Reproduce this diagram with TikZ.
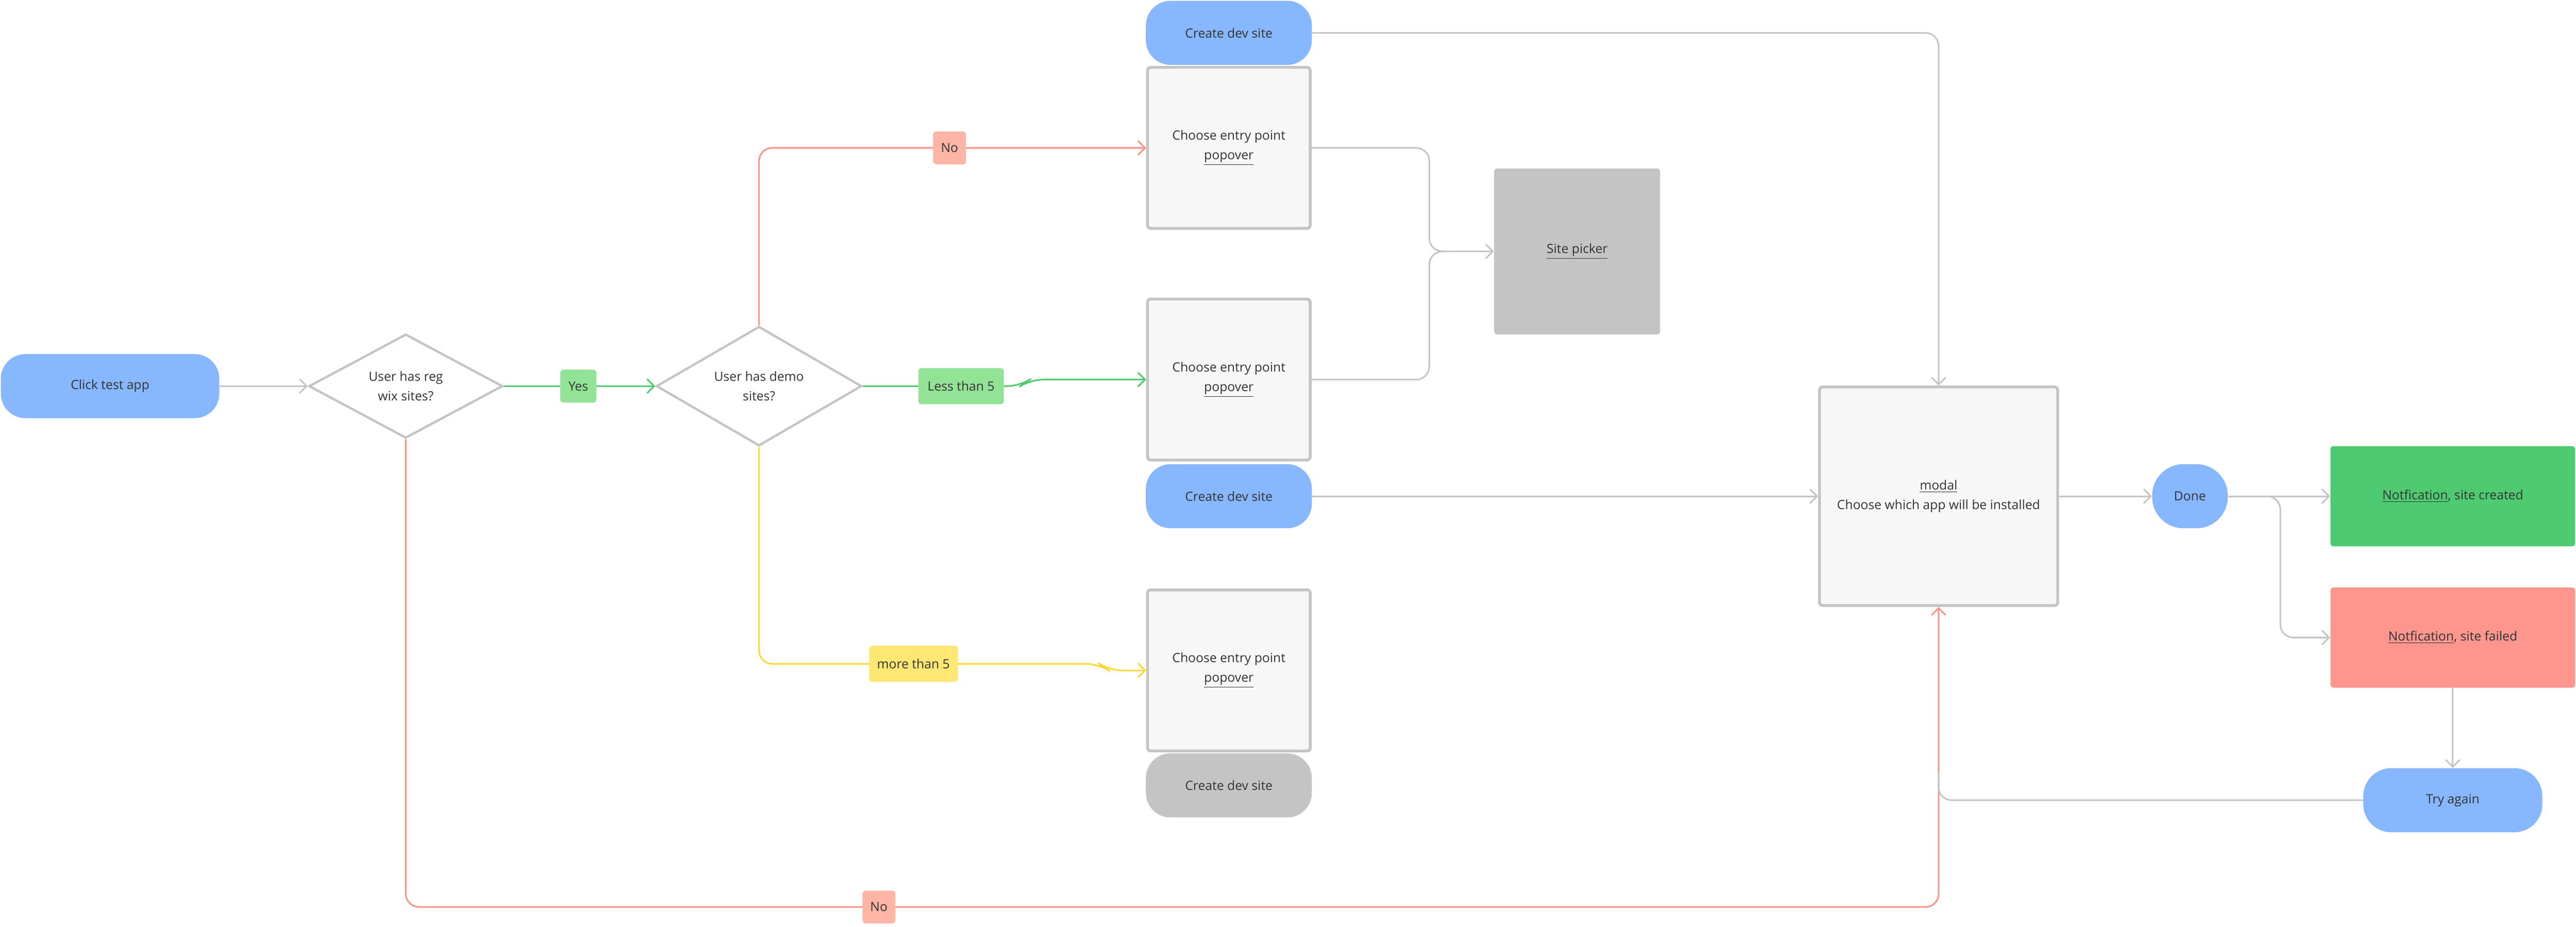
\documentclass[tikz,border=0pt]{standalone}
\usepackage{fontspec}
\setmainfont{Open Sans}
\usetikzlibrary{shapes.geometric,arrows.meta}
\definecolor{tblue}{HTML}{87B7FF}
\definecolor{tgrey}{HTML}{C4C4C4}
\definecolor{tbox}{HTML}{F7F7F7}
\definecolor{tgreen}{HTML}{4ECB71}
\definecolor{tlgreen}{HTML}{92E396}
\definecolor{tred}{HTML}{FF968E}
\definecolor{tsalmon}{HTML}{FFB5A6}
\definecolor{tyellow}{HTML}{FFE773}
\definecolor{tylw}{HTML}{FFD633}
\definecolor{ttext}{HTML}{333333}
\begin{document}
\begin{tikzpicture}[x=0.04082cm,y=-0.04082cm,
  every node/.style={font=\fontsize{9}{14}\selectfont,text=ttext,align=center,inner sep=0pt},
  term/.style={fill=tblue,rounded corners=15*0.04082cm,minimum width=#1*0.04082cm,minimum height=39*0.04082cm},
  term/.default=101,
  box/.style={fill=tbox,draw=tgrey,line width=2pt,rounded corners=2pt,minimum width=99*0.04082cm,minimum height=98*0.04082cm},
  dia/.style={diamond,draw=tgrey,fill=white,line width=1.6pt,minimum width=#1*0.04082cm,minimum height=61*0.04082cm},
  tag/.style={fill=#1,rounded corners=2pt,minimum height=20*0.04082cm,inner xsep=4pt},
  conn/.style={draw=#1,line width=1.1pt,rounded corners=8*0.04082cm,-{Straight Barb[length=5pt,width=10pt]}},
  conn/.default=tgrey,
  plain/.style={draw=#1,line width=1.1pt,rounded corners=8*0.04082cm},
  plain/.default=tgrey]
\useasboundingbox (0,0) rectangle (1568,564);
% nodes
\node[term=133] (click) at (67,235) {Click test app};
\node[dia=118] (d1) at (247,235) {User has reg\\wix sites?};
\node[dia=125] (d2) at (462,235) {User has demo\\sites?};
\node[term] (cd1) at (748,20) {Create dev site};
\node[box] (ch1) at (748,90) {Choose entry point\\\underline{popover}};
\node[box] (ch2) at (748,231) {Choose entry point\\\underline{popover}};
\node[term] (cd2) at (748,302) {Create dev site};
\node[box] (ch3) at (748,408) {Choose entry point\\\underline{popover}};
\node[term,fill=tgrey] (cd3) at (748,478) {Create dev site};
\node[fill=tgrey,rounded corners=2pt,minimum width=101*0.04082cm,minimum height=101*0.04082cm] (sp) at (960,153) {\underline{Site picker}};
\node[box,minimum width=145*0.04082cm,minimum height=133*0.04082cm] (modal) at (1180,302) {\underline{modal}\\Choose which app will be installed};
\node[fill=tblue,rounded corners=19*0.04082cm,minimum width=46*0.04082cm,minimum height=39*0.04082cm] (done) at (1333,302) {Done};
\node[fill=tgreen,rounded corners=2pt,minimum width=149*0.04082cm,minimum height=61*0.04082cm] (nok) at (1493,302) {\underline{Notfication}, site created};
\node[fill=tred,rounded corners=2pt,minimum width=149*0.04082cm,minimum height=61*0.04082cm] (nfail) at (1493,388) {\underline{Notfication}, site failed};
\node[term=109,rounded corners=17*0.04082cm] (try) at (1493,487) {Try again};
\coordinate (m) at (1180,370);
% connectors
\draw[conn] (click) -- (d1);
\draw[conn=tgreen] (d1) -- (d2);
\draw[conn=tsalmon!80!red] (d2.north) -- (462,90) -- (ch1.west);
\draw[conn=tgreen] (d2.east) -- (621,235) -- (627,231) -- (ch2.west);
\draw[conn=tylw] (d2.south) -- (462,404) -- (669,404) -- (675,408) -- (ch3.west);
\draw[conn=tsalmon!80!red] (d1.south) -- (247,552) -- (1180,552) -- (modal.south);
\draw[conn] (cd1.east) -- (1180,20) -- (modal.north);
\draw[conn] (ch1.east) -- (870,90) -- (870,153) -- (sp.west);
\draw[plain] (ch2.east) -- (870,231) -- (870,153) -- (880,153);
\draw[conn] (cd2.east) -- (modal.west);
\draw[conn] (modal.east) -- (done.west);
\draw[conn] (done.east) -- (nok.west);
\draw[conn] (1380,302) -- (1388,302) -- (1388,388) -- (nfail.west);
\draw[conn] (nfail.south) -- (try.north);
\draw[plain] (try.west) -- (1180,487) -- (1180,470);
% labels
\node[tag=tlgreen,minimum width=22*0.04082cm] (yes) at (352,235) {Yes};
\node[tag=tsalmon,minimum width=20*0.04082cm] (no1) at (578,90) {No};
\node[tag=tlgreen,minimum width=52*0.04082cm,minimum height=22*0.04082cm] (lt5) at (585,235) {Less than 5};
\node[tag=tyellow,minimum width=54*0.04082cm,minimum height=22*0.04082cm] (mt5) at (556,404) {more than 5};
\node[tag=tsalmon,minimum width=20*0.04082cm] (no2) at (535,552) {No};
\end{tikzpicture}
\end{document}
